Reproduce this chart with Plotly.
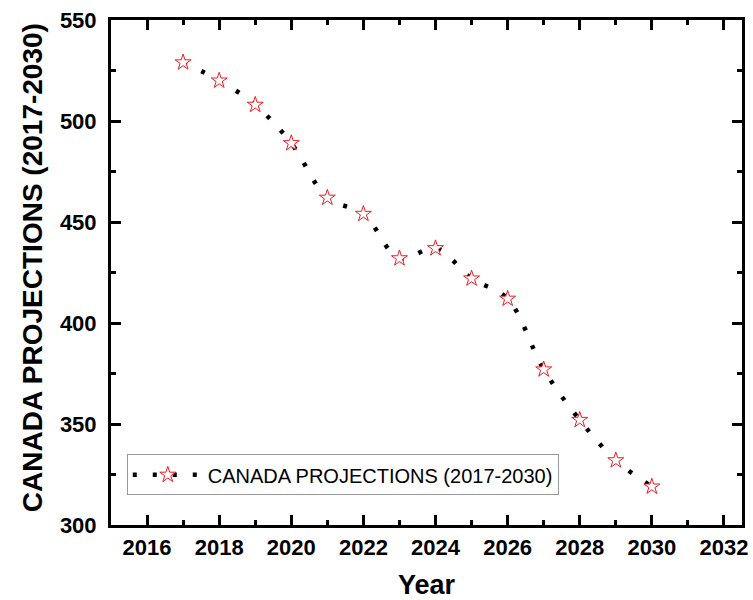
import plotly.graph_objects as go

# Canada projections, 2017-2030
years = [2017, 2018, 2019, 2020, 2021, 2022, 2023, 2024, 2025, 2026, 2027, 2028, 2029, 2030]
values = [529, 520, 508, 489, 462, 454, 432, 437, 422, 412, 377, 352, 332, 319]
series_name = "CANADA PROJECTIONS (2017-2030)"
x_ticks = [2016, 2018, 2020, 2022, 2024, 2026, 2028, 2030, 2032]
y_ticks = [300, 350, 400, 450, 500, 550]

FONT = "Arial, Liberation Sans, sans-serif"

fig = go.Figure()
fig.add_trace(go.Scatter(
    x=years, y=values, name=series_name,
    mode="lines+markers",
    line=dict(color="black", width=4.5, dash="4px,16px", shape="spline", smoothing=1),
    marker=dict(symbol="star", size=12, color="white", line=dict(width=1, color="#ec1c24")),
))

axis_common = dict(
    showline=True, linecolor="black", linewidth=3, mirror="ticks",
    ticks="inside", ticklen=10, tickwidth=3, tickcolor="black",
    showgrid=False, zeroline=False, automargin=False,
    tickfont=dict(family=FONT, size=22, color="black", weight="bold"),
)

fig.update_xaxes(
    **axis_common,
    range=[2015, 2032.5], tickvals=x_ticks,
    minor=dict(tickvals=[2017, 2019, 2021, 2023, 2025, 2027, 2029, 2031],
               ticks="inside", ticklen=5, tickwidth=3, tickcolor="black"),
    ticklabelstandoff=1,
    title=dict(text="<b>Year</b>", font=dict(family=FONT, size=27, color="black"), standoff=24),
)
fig.update_yaxes(
    **axis_common,
    range=[300, 550], tickvals=y_ticks,
    minor=dict(tickvals=[325, 375, 425, 475, 525],
               ticks="inside", ticklen=5, tickwidth=3, tickcolor="black"),
    ticklabelstandoff=7,
)

# Y axis title placed as a rotated annotation beside the tick labels
fig.add_annotation(
    text="<b>CANADA PROJECTIONS (2017-2030)</b>",
    xref="paper", yref="paper", x=-0.124, y=0.51,
    xanchor="center", yanchor="middle", textangle=-90, showarrow=False,
    font=dict(family=FONT, size=28, color="black"),
)

fig.update_layout(
    width=753, height=600,
    margin=dict(l=111, r=11, t=20, b=75),
    paper_bgcolor="white", plot_bgcolor="white",
    font=dict(family=FONT, color="black"),
    showlegend=True,
    legend=dict(
        x=0.025, y=0.14, xanchor="left", yanchor="top",
        bgcolor="white", bordercolor="#999999", borderwidth=1,
        font=dict(family=FONT, size=20, color="black"),
        itemwidth=70,
    ),
)

fig.write_html("out.html")
